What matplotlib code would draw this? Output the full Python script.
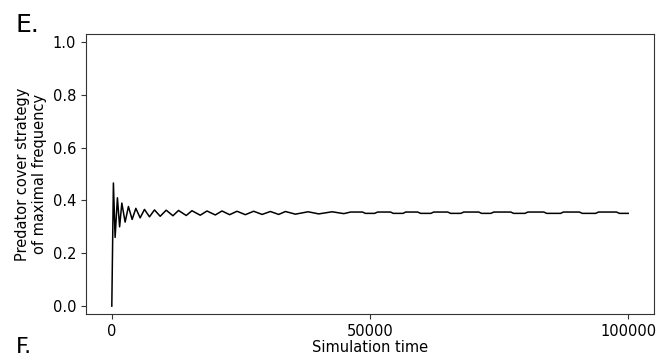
import matplotlib
matplotlib.use("Agg")
import matplotlib.pyplot as plt

# Simulation time of read-off turning points of the trace
sim_time = [
    0, 310, 640, 1086, 1513, 1940, 2580, 3220, 3938, 4656, 5490, 6324, 7294,
    8264, 9370, 10534, 11834, 12920, 14414, 15520, 17130, 18430, 20040,
    21340, 22814, 24250, 25860, 27470, 29100, 30710, 32320, 33620, 35560,
    38020, 40080, 42680, 44930,
    46230, 48560, 49100, 50900, 51470, 53990, 54500, 56400, 56900, 59230,
    59800, 61800, 62330, 65050, 65600, 67600, 68150, 71060, 71600, 73400,
    73970, 77270, 77800, 80000, 80570, 83670, 84200, 86900, 87450, 90550,
    91100, 93700, 94240, 97730, 98300, 100000,
]
# Predator cover strategy of maximal frequency at those times
strategy = [
    0.0, 0.466, 0.26, 0.410, 0.300, 0.390, 0.318, 0.377, 0.328, 0.370, 0.334,
    0.366, 0.338, 0.364, 0.340, 0.363, 0.342, 0.362, 0.343, 0.361, 0.344,
    0.360, 0.345, 0.360, 0.346, 0.359, 0.346, 0.359, 0.347, 0.358, 0.347,
    0.358, 0.348, 0.357, 0.349, 0.357, 0.350,
    0.356, 0.356, 0.351, 0.351, 0.356, 0.356, 0.351, 0.351, 0.356, 0.356,
    0.351, 0.351, 0.356, 0.356, 0.351, 0.351, 0.356, 0.356, 0.351, 0.351,
    0.356, 0.356, 0.351, 0.351, 0.356, 0.356, 0.351, 0.351, 0.356, 0.356,
    0.351, 0.351, 0.356, 0.356, 0.351, 0.351,
]

x_ticks = [0, 50000, 100000]
y_ticks = [0.0, 0.2, 0.4, 0.6, 0.8, 1.0]

fig = plt.figure(figsize=(6.65, 3.57), dpi=100)
ax = fig.add_axes([0.1293, 0.1204, 0.8542, 0.7844])
ax.plot(sim_time, strategy, color="black", linewidth=1.1)
ax.set_xlim(-5000, 105000)
ax.set_ylim(-0.03, 1.03)
ax.set_xticks(x_ticks)
ax.set_xticklabels([str(t) for t in x_ticks])
ax.set_yticks(y_ticks)
ax.set_yticklabels([f"{t:.1f}" for t in y_ticks])
ax.tick_params(labelsize=10.5, color="#333333")
for s in ax.spines.values():
    s.set_color("#333333")
ax.set_xlabel("Simulation time", fontsize=10.5, labelpad=1)
ax.set_ylabel("Predator cover strategy\nof maximal frequency", fontsize=10.5,
              labelpad=4)

fig.text(0.024, 0.91, "E.", fontsize=18)
fig.text(0.024, 0.012, "F.", fontsize=16)

fig.savefig("out.png", dpi=100)
